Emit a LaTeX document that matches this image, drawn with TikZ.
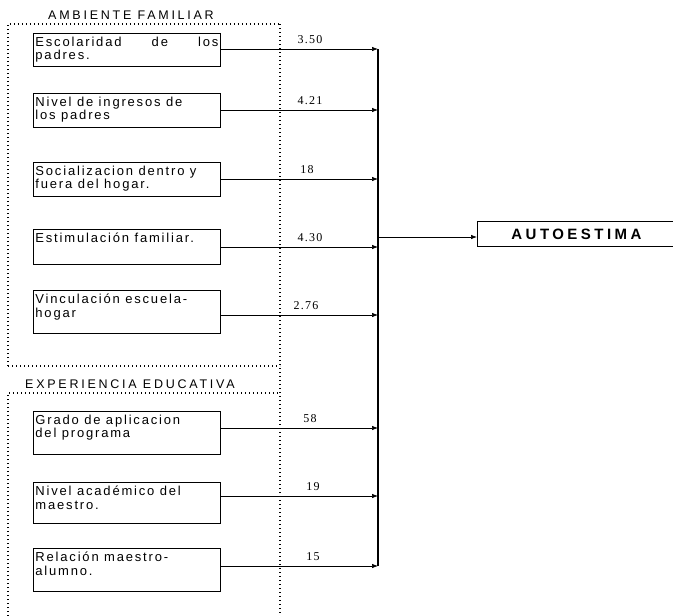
\documentclass[tikz,border=0pt]{standalone}
\usepackage{fontspec}
\setmainfont{Liberation Sans}
\newfontfamily\boxfont[LetterSpace=14]{Liberation Sans}
\newfontfamily\headfont[LetterSpace=22]{Liberation Sans}
\newfontfamily\autofont[LetterSpace=23]{Liberation Sans}
\newfontfamily\numfont[LetterSpace=10]{Liberation Serif}
\usetikzlibrary{arrows.meta}
\begin{document}
\begin{tikzpicture}[x=1pt,y=-1pt,
  box/.style={draw, line width=0.9pt, anchor=north west, inner xsep=2pt, inner ysep=3.5pt,
    font=\boxfont\fontsize{13}{13.5}\selectfont},
  dotline/.style={line width=1.2pt, dash pattern=on 1.1pt off 2.9pt},
  arr/.style={line width=0.7pt, -{Latex[length=6pt,width=4.5pt]}},
  num/.style={font=\numfont\fontsize{12}{14}\selectfont, anchor=base, inner sep=0pt},
  head/.style={font=\headfont\fontsize{12.5}{14}\selectfont, anchor=base west, inner sep=0pt}]
\useasboundingbox (0,0) rectangle (673,616);

% group frames
\draw[dotline] (8,366) -- (8,24) -- (280,24);
\draw[dotline] (280,24) -- (280,614);
\draw[dotline] (8,366) -- (280,366);
\draw[dotline] (8,616) -- (8,393) -- (280,393);

\node[head] (h1) at (48,19) {AMBIENTE FAMILIAR};
\node[head] (h2) at (25,388) {EXPERIENCIA EDUCATIVA};

% boxes
\node[box] (e1) at (33,33) {\parbox[c][26pt][t]{183pt}{\strut Escolaridad\hfill de\hfill los\\padres.}};
\node[box] (e2) at (33,93) {\parbox[c][27pt][t]{183pt}{\strut Nivel de ingresos de\\los padres}};
\node[box] (e3) at (33,162) {\parbox[c][27pt][t]{183pt}{\strut Socializacion dentro y\\fuera del hogar.}};
\node[box] (e4) at (33,229) {\parbox[c][28pt][t]{183pt}{\strut Estimulación familiar.}};
\node[box] (e5) at (33,290) {\parbox[c][36pt][t]{183pt}{\strut Vinculación escuela-\\hogar}};
\node[box] (e6) at (33,411) {\parbox[c][36pt][t]{183pt}{\strut Grado de aplicacion\\del programa}};
\node[box] (e7) at (33,482) {\parbox[c][34pt][t]{183pt}{\strut Nivel académico del\\maestro.}};
\node[box] (e8) at (33,548) {\parbox[c][36pt][t]{183pt}{\strut Relación maestro-\\alumno.}};

% bus points
\coordinate (b1) at (378,49);
\coordinate (b2) at (378,110);
\coordinate (b3) at (378,179);
\coordinate (b4) at (378,247);
\coordinate (b5) at (378,315);
\coordinate (b6) at (378,428);
\coordinate (b7) at (378,496);
\coordinate (b8) at (378,566);
\coordinate (bm) at (378,237);

\draw[line width=1.6pt] (b1) -- (b8);

\foreach \i in {1,...,8} {\draw[arr] (e\i.east |- b\i) -- (b\i);}

\node[num] (n1) at (310,43) {3.50};
\node[num] (n2) at (310,104) {4.21};
\node[num] (n3) at (307,173) {18};
\node[num] (n4) at (310,241) {4.30};
\node[num] (n5) at (306,309) {2.76};
\node[num] (n6) at (310,422) {58};
\node[num] (n7) at (313,490) {19};
\node[num] (n8) at (313,560) {15};

\node[draw, line width=0.9pt, anchor=north west, minimum width=198pt, minimum height=25pt, inner sep=0pt,
  font=\autofont\bfseries\fontsize{15}{17}\selectfont] (auto) at (477,221) {AUTOESTIMA};
\draw[arr] (bm) -- (auto.west |- bm);
\end{tikzpicture}
\end{document}
